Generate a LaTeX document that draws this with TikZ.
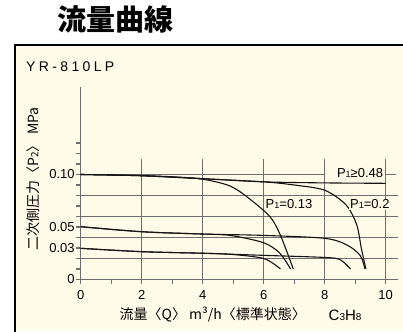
\documentclass[tikz,border=0pt]{standalone}
\usepackage{fontspec}
\setmainfont{Liberation Sans}
\newfontfamily\cjk{Noto Sans CJK JP}
\usepackage{tikz}
\definecolor{chartcream}{HTML}{FFFBE9}
\definecolor{gridgray}{HTML}{6E6E6E}
\definecolor{curveblack}{HTML}{141414}

\begin{document}
\begin{tikzpicture}[x=1pt,y=1pt,
    gridline/.style={gridgray,line width=1.2pt},
    flowcurve/.style={curveblack,line width=1.1pt},
    ticklabel/.style={inner sep=0pt,font=\fontsize{13}{13}\selectfont},
    curvelabel/.style={inner sep=1pt,fill=chartcream,font=\fontsize{13}{13}\selectfont},
    axislabel/.style={inner sep=0pt,font=\cjk\fontsize{14}{14}\selectfont}]
\useasboundingbox (0,0) rectangle (403,331);
% Title and frame
\node[font=\cjk\bfseries\fontsize{29}{29}\selectfont,inner sep=0pt] (title) at (115,312) {流量曲線};
\fill[chartcream] (15,0) rectangle (403,286);
\draw[line width=1.3pt] (15,-2) -- (15,286) -- (405,286);
\node[anchor=west,inner sep=0pt,font=\addfontfeature{LetterSpace=24}\fontsize{14}{14}\selectfont] (model) at (26,264) {YR-810LP};
% Chart in data units: x = m3/h, y = 0.01 MPa
\begin{scope}[shift={(80.7,51.5)},x=30.5pt,y=10.5pt]
    % grid
    \foreach \q in {2,4,...,10}
        \draw[gridline] (\q,-0.45) -- (\q,11.5);
    \foreach \p in {2,4,6,8}
        \draw[gridline] (0,\p) -- (10.4,\p);
    \draw[gridline] (0,10) -- (8,10);
    \draw[gridline] (10,10) -- (10.35,10);
    % axes and ticks
    \draw[gridline] (0,-0.45) -- (0,18.3);
    \draw[gridline] (0,0) -- (10.4,0);
    \foreach \q in {1,3,5,7,9}
        \draw[gridline] (\q,0) -- (\q,-0.45);
    \foreach \p in {0,...,13}
        \draw[gridline] (0,\p) -- (-0.15,\p);
    \foreach \p/\t in {0/0,3/0.03,5/0.05,10/0.10}
        \node[ticklabel,anchor=east] (ylab\p) at (-0.19,\p) {\t};
    \foreach \q in {0,2,...,10}
        \node[ticklabel] (xlab\q) at (\q,-1.5) {\q};
    % axis titles
    \node[axislabel] (xtitle) at (4.33,-3.38) {流量〈Q〉 m³/h〈標準状態〉};
    \node[ticklabel,font=\addfontfeature{LetterSpace=20}\fontsize{15}{15}\selectfont] (gas) at (8.67,-3.38) {C{\fontsize{10}{10}\selectfont 3}H{\fontsize{10}{10}\selectfont 8}};
    \node[axislabel,rotate=90] (ytitle) at (-1.56,9.57) {二次側圧力〈P{\fontsize{10}{10}\selectfont 2}〉 MPa};
    % flow curves
    \draw[flowcurve] plot[smooth,tension=0.5] coordinates {(0,10) (2,9.88) (4,9.6) (6,9.3) (8,9.2) (10,9.16)};
    \draw[flowcurve] plot[smooth,tension=0.5] coordinates {(0,10) (2,9.88) (4,9.6) (6,9.3) (7,9.0) (8,8.5) (8.7,7.1) (9.05,5.2) (9.2,3.0) (9.35,1.0)};
    \draw[flowcurve] plot[smooth,tension=0.5] coordinates {(0,10) (2,9.9) (3.5,9.7) (4.2,9.45) (4.9,8.9) (5.44,7.9) (6.2,6.0) (6.55,4.2) (6.97,1.0)};
    \draw[flowcurve] plot[smooth,tension=0.5] coordinates {(0,5.03) (2,4.55) (4,4.33) (6,4.2) (8,3.92) (8.72,3.3) (9.16,2.3) (9.32,1.0)};
    \draw[flowcurve] plot[smooth,tension=0.5] coordinates {(0,5.03) (2,4.55) (4,4.33) (4.9,4.2) (6,3.5) (6.53,2.5) (6.88,1.0)};
    \draw[flowcurve] plot[smooth,tension=0.5] coordinates {(0,2.97) (2,2.65) (4,2.5) (6,2.3) (8,2.1) (8.5,1.9) (8.85,1.0)};
    \draw[flowcurve] plot[smooth,tension=0.5] coordinates {(0,2.97) (2,2.65) (4,2.5) (4.9,2.4) (6,2.0) (6.55,1.0)};
    % curve labels
    \node[curvelabel] (p013) at (6.83,7.16) {P{\fontsize{9}{9}\selectfont 1}=0.13};
    \node[curvelabel] (p02) at (9.48,7.16) {P{\fontsize{9}{9}\selectfont 1}=0.2};
    \node[curvelabel] (p048) at (9.16,10.1) {P{\fontsize{9}{9}\selectfont 1}≥0.48};
\end{scope}
\end{tikzpicture}
\end{document}
